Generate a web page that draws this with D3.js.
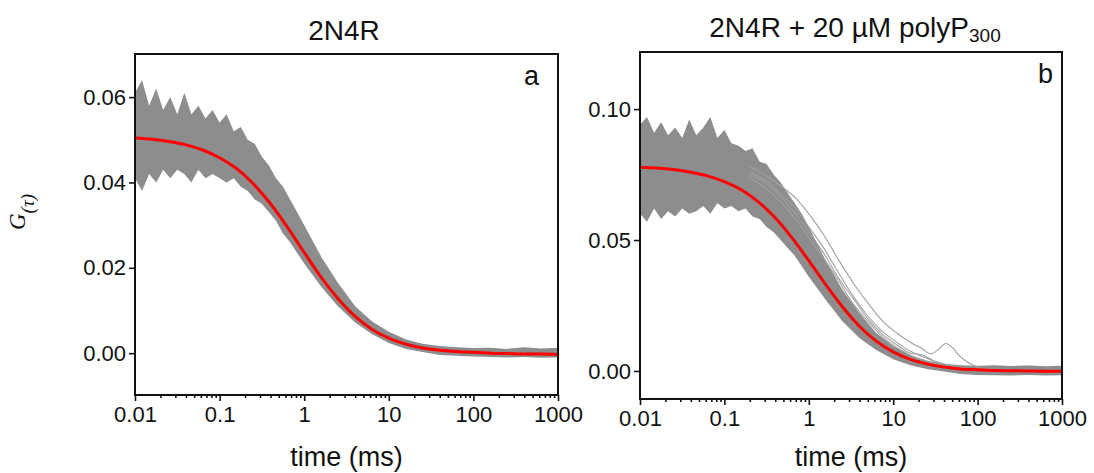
<!DOCTYPE html>
<html>
<head>
<meta charset="utf-8">
<script src="https://cdn.jsdelivr.net/npm/d3@7"></script>
<style>
  body { margin: 0; background: #fff; }
  text { font-family: "Liberation Sans", Arial, sans-serif; fill: #111; }
</style>
</head>
<body>
<div id="wrapper"></div>
<script>
// lag times (ms) for the fitted curves
const fitTimes = [0.01, 0.016, 0.025, 0.04, 0.063, 0.1, 0.16, 0.25, 0.4, 0.63, 1, 1.6, 2.5, 4, 6.3,
    10, 16, 25, 40, 63, 100, 160, 250, 400, 630, 1000]
const fitA = [0.0504, 0.0501, 0.0496, 0.0488, 0.0476, 0.0458, 0.0432, 0.0397, 0.0350, 0.0296, 0.0236,
    0.0177, 0.0128, 0.0086, 0.0056, 0.0035, 0.0021, 0.0012, 0.0007, 0.0004, 0.0002, 0.0000, -0.0001,
    -0.0002, -0.0002, -0.0003]
const fitB = [0.0778, 0.0775, 0.0769, 0.0759, 0.0745, 0.0723, 0.0691, 0.0647, 0.0585, 0.0509, 0.0421,
    0.0328, 0.0245, 0.0170, 0.0114, 0.0073, 0.0044, 0.0027, 0.0015, 0.0008, 0.0005, 0.0002, 0.0001,
    0.0000, -0.0001, -0.0001]

// lag times (ms) for the spread of the measured curves
const bandTimes = [0.01, 0.0121, 0.0147, 0.0178, 0.0215, 0.0261, 0.0316, 0.0383, 0.0464, 0.0562, 0.0681,
    0.0825, 0.1, 0.121, 0.147, 0.178, 0.215, 0.261, 0.316, 0.383, 0.464, 0.562, 0.681, 0.825, 1,
    1.6, 2.5, 4, 6.3, 10, 16, 25, 40, 63, 100, 160, 250, 400, 630, 1000]
const upperA = [0.061, 0.064, 0.058, 0.062, 0.057, 0.060, 0.056, 0.061, 0.056, 0.058, 0.055, 0.057, 0.054,
    0.056, 0.052, 0.053, 0.050, 0.049, 0.046, 0.044, 0.041, 0.039, 0.036, 0.033, 0.030,
    0.0225, 0.0165, 0.0110, 0.0075, 0.0050, 0.0032, 0.0022, 0.0017, 0.0014, 0.0012, 0.0013, 0.0010,
    0.0014, 0.0011, 0.0013]
const lowerA = [0.041, 0.038, 0.042, 0.040, 0.043, 0.041, 0.043, 0.042, 0.040, 0.043, 0.041, 0.042, 0.041,
    0.040, 0.041, 0.039, 0.038, 0.036, 0.035, 0.033, 0.031, 0.028, 0.026, 0.0235, 0.021,
    0.0155, 0.0110, 0.0072, 0.0045, 0.0024, 0.0010, 0.0003, -0.0004, -0.0006, -0.0008, -0.0009, -0.0010,
    -0.0009, -0.0011, -0.0010]
const upperB = [0.094, 0.097, 0.091, 0.095, 0.090, 0.093, 0.089, 0.096, 0.090, 0.093, 0.097, 0.089, 0.092,
    0.087, 0.086, 0.084, 0.085, 0.080, 0.079, 0.075, 0.072, 0.068, 0.064, 0.060, 0.055,
    0.042, 0.031, 0.022, 0.0145, 0.0095, 0.0060, 0.0040, 0.0028, 0.0022, 0.0020, 0.0022, 0.0019,
    0.0021, 0.0018, 0.0020]
const lowerB = [0.060, 0.057, 0.062, 0.058, 0.061, 0.059, 0.062, 0.060, 0.061, 0.063, 0.060, 0.064, 0.062,
    0.063, 0.061, 0.062, 0.059, 0.058, 0.055, 0.053, 0.050, 0.047, 0.044, 0.040, 0.036,
    0.027, 0.019, 0.0125, 0.0080, 0.0045, 0.0022, 0.0008, -0.0002, -0.0012, -0.0015, -0.0016, -0.0017,
    -0.0015, -0.0017, -0.0016]

// a few slower single curves in panel b
const traceTimes = [0.2, 0.3, 0.45, 0.7, 1, 1.5, 2.2, 3.3, 5, 7.5, 11, 16, 22, 28, 35, 42, 50, 60, 75, 100, 150]
const slowTracesB = [
    [0.078, 0.075, 0.071, 0.066, 0.060, 0.052, 0.043, 0.034, 0.026, 0.019, 0.0145, 0.0110, 0.0085, 0.0065,
        0.0085, 0.0105, 0.0090, 0.0060, 0.0035, 0.0015, 0.0005],
    [0.076, 0.073, 0.068, 0.062, 0.055, 0.047, 0.038, 0.029, 0.021, 0.015, 0.0110, 0.0075, 0.0055, 0.0042,
        0.0032, 0.0025, 0.0020, 0.0015, 0.0010, 0.0006, 0.0002],
    [0.074, 0.070, 0.065, 0.058, 0.051, 0.043, 0.035, 0.026, 0.019, 0.013, 0.0090, 0.0060, 0.0042, 0.0032,
        0.0024, 0.0018, 0.0014, 0.0010, 0.0007, 0.0004, 0.0001],
    [0.075, 0.072, 0.067, 0.060, 0.053, 0.045, 0.036, 0.028, 0.020, 0.014, 0.0100, 0.0068, 0.0062, 0.0045,
        0.0030, 0.0022, 0.0016, 0.0012, 0.0008, 0.0005, 0.0002]
]

const xTicks = [0.01, 0.1, 1, 10, 100, 1000]
const yTicksA = [0.00, 0.02, 0.04, 0.06]
const yTicksB = [0.00, 0.05, 0.10]

const panels = [
    { letter: "a", letterX: 539, title: "2N4R", sub: "", titleX: 344, titleY: 40,
      left: 135, right: 558, top: 54, bottom: 395,
      yDomain: [-0.0098, 0.0701], yTicks: yTicksA, fit: fitA, upper: upperA, lower: lowerA, traces: [] },
    { letter: "b", letterX: 1053, title: "2N4R + 20 µM polyP", sub: "300", titleX: 855, titleY: 37,
      left: 640, right: 1062, top: 52, bottom: 399,
      yDomain: [-0.0107, 0.1218], yTicks: yTicksB, fit: fitB, upper: upperB, lower: lowerB, traces: slowTracesB }
]

const width = 1094
const height = 473

const svg = d3.select("#wrapper")
    .append("svg")
        .attr("width", width)
        .attr("height", height)

// minor ticks 2..9 in every decade
const minorTicks = []
xTicks.slice(0, -1).forEach(d => {
    for (let k = 2; k < 10; k++) minorTicks.push(d * k)
})

panels.forEach(p => {
    const x = d3.scaleLog().domain([0.01, 1000]).range([p.left, p.right])
    const y = d3.scaleLinear().domain(p.yDomain).range([p.bottom, p.top])

    const g = svg.append("g")

    // grey spread of the measured curves
    const band = d3.area()
        .x((d, i) => x(bandTimes[i]))
        .y0(d => y(d[0]))
        .y1(d => y(d[1]))
    g.append("path")
        .datum(d3.zip(p.lower, p.upper))
        .attr("d", band)
        .attr("fill", "#8d8d8d")

    const traceLine = d3.line()
        .x((d, i) => x(traceTimes[i]))
        .y(d => y(d))
        .curve(d3.curveMonotoneX)
    g.selectAll(".trace")
        .data(p.traces)
        .join("path")
        .attr("class", "trace")
        .attr("d", traceLine)
        .attr("fill", "none")
        .attr("stroke", "#a0a0a0")
        .attr("stroke-width", 1.1)

    // fitted curve
    const fitLine = d3.line()
        .x((d, i) => x(fitTimes[i]))
        .y(d => y(d))
        .curve(d3.curveMonotoneX)
    g.append("path")
        .datum(p.fit)
        .attr("d", fitLine)
        .attr("fill", "none")
        .attr("stroke", "#ff0000")
        .attr("stroke-width", 3)

    // axes
    g.append("g")
        .attr("transform", `translate(0,${p.bottom})`)
        .call(d3.axisBottom(x).tickValues(xTicks).tickFormat(d3.format("~g")).tickSize(6).tickPadding(5))
    g.append("g")
        .attr("transform", `translate(0,${p.bottom})`)
        .call(d3.axisBottom(x).tickValues(minorTicks).tickFormat("").tickSize(3))

    g.append("g")
        .attr("transform", `translate(${p.left},0)`)
        .call(d3.axisLeft(y).tickValues(p.yTicks).tickFormat(d3.format(".2f")).tickSize(6).tickPadding(3))

    g.selectAll(".tick line").attr("stroke", "#111").attr("stroke-width", 1.6)
    g.selectAll(".domain").remove()
    g.selectAll(".tick text")
        .attr("font-size", 22)
        .attr("font-family", "Liberation Sans, Arial, sans-serif")
        .attr("fill", "#111")

    // frame
    g.append("rect")
        .attr("x", p.left)
        .attr("y", p.top)
        .attr("width", p.right - p.left)
        .attr("height", p.bottom - p.top)
        .attr("fill", "none")
        .attr("stroke", "#111")
        .attr("stroke-width", 2)

    // panel letter
    g.append("text")
        .attr("x", p.letterX)
        .attr("y", p.top + 31)
        .attr("text-anchor", "end")
        .attr("font-size", 27)
        .text(p.letter)

    // title
    const title = g.append("text")
        .attr("x", p.titleX)
        .attr("y", p.titleY)
        .attr("text-anchor", "middle")
        .attr("font-size", 28)
        .text(p.title)
    if (p.sub) {
        title.append("tspan")
            .attr("font-size", 19)
            .attr("dy", 5)
            .text(p.sub)
    }

    g.append("text")
        .attr("x", (p.left + p.right) / 2)
        .attr("y", 466)
        .attr("text-anchor", "middle")
        .attr("font-size", 27)
        .text("time (ms)")
})

// y label
const yLabel = svg.append("text")
    .attr("transform", "translate(25,212) rotate(-90)")
    .attr("text-anchor", "middle")
    .style("font-family", "Liberation Serif, Times New Roman, serif")
    .style("font-style", "italic")
    .attr("font-size", 23)
yLabel.append("tspan").text("G")
yLabel.append("tspan").attr("font-size", 19).attr("dy", 9).text("(τ)")
</script>
</body>
</html>
